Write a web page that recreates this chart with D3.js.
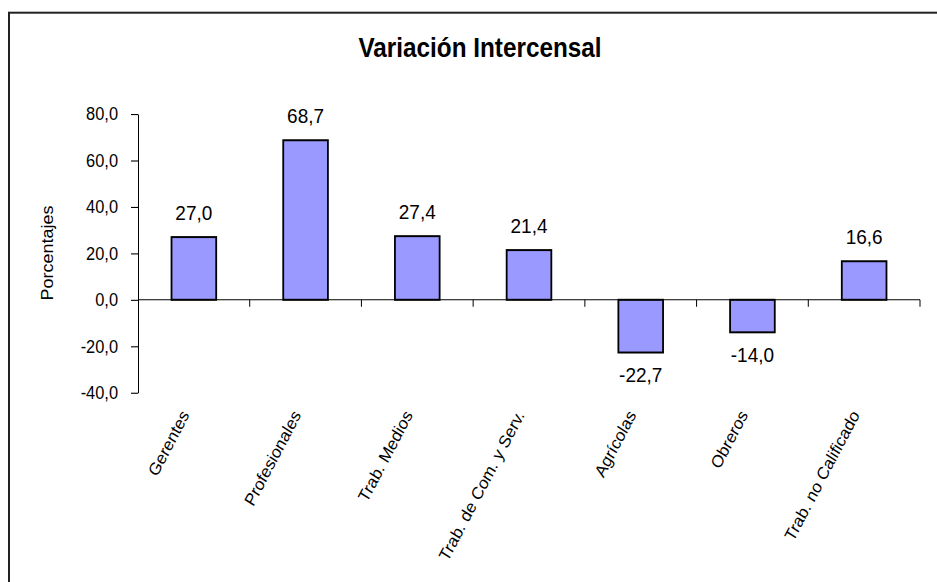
<!DOCTYPE html>
<html>
<head>
<meta charset="utf-8">
<script src="https://cdn.jsdelivr.net/npm/d3@7/dist/d3.min.js"></script>
<style>
  html, body { margin: 0; padding: 0; background: #fff; }
  svg { display: block; }
  text { font-family: "Liberation Sans", Arial, sans-serif; fill: #000; }
</style>
</head>
<body>
<svg id="chart" width="937" height="582"></svg>
<script>
// ---- data ----
const categories = ["Gerentes", "Profesionales", "Trab. Medios", "Trab. de Com. y Serv.", "Agrícolas", "Obreros", "Trab. no Calificado"];
const values = [27.0, 68.7, 27.4, 21.4, -22.7, -14.0, 16.6];
const yTicks = [-40, -20, 0, 20, 40, 60, 80];
const title = "Variación Intercensal";
const yTitle = "Porcentajes";

// ---- layout ----
const S = 1.1; // vertical stretch of the picture
const fmt = v => v.toFixed(1).replace(".", ",");

const svg = d3.select("#chart");
// outer frame (extends beyond right/bottom edge)
svg.append("rect")
  .attr("x", 9).attr("y", 12.7)
  .attr("width", 960).attr("height", 600)
  .attr("fill", "#fff").attr("stroke", "#222").attr("stroke-width", 2);

const g = svg.append("g").attr("transform", `scale(1,${S})`);

const x = d3.scaleBand().domain(categories).range([138, 920]).paddingInner(0.6).paddingOuter(0.3);
const y = d3.scaleLinear().domain([-40, 80]).range([392.7 / S, 114 / S]);

// title
g.append("text")
  .attr("x", 480).attr("y", 56.7 / S)
  .attr("text-anchor", "middle")
  .style("font-size", "24.3px")
  .style("font-weight", "bold")
  .text(title);

// y axis title
g.append("text")
  .attr("transform", `translate(53,${253 / S}) rotate(-90)`)
  .attr("text-anchor", "middle")
  .style("font-size", "16.4px")
  .text(yTitle);

// bars
g.selectAll("rect.bar").data(values).join("rect")
  .attr("class", "bar")
  .attr("x", (d, i) => x(categories[i]))
  .attr("width", x.bandwidth())
  .attr("y", d => y(Math.max(0, d)))
  .attr("height", d => Math.abs(y(d) - y(0)))
  .attr("fill", "#9999FF")
  .attr("stroke", "#000")
  .attr("stroke-width", 1.8);

// y axis
const yAxis = g.append("g")
  .attr("transform", `translate(${x.range()[0]},0)`)
  .call(d3.axisLeft(y).tickValues(yTicks).tickFormat(fmt).tickSizeInner(7).tickSizeOuter(0).tickPadding(13));
yAxis.select(".domain").attr("stroke", "#000");
yAxis.selectAll(".tick line").attr("stroke", "#000");
yAxis.selectAll("text").style("font-size", "16.4px").attr("font-family", null).attr("fill", "#000");

// x axis line at zero with ticks at category boundaries
const step = x.step();
const boundaries = categories.map((c, i) => x.range()[0] + (i + 1) * step);
g.append("line")
  .attr("x1", x.range()[0]).attr("x2", x.range()[1])
  .attr("y1", y(0)).attr("y2", y(0))
  .attr("stroke", "#000").attr("stroke-width", 1);
g.selectAll("line.xtick").data(boundaries).join("line")
  .attr("class", "xtick")
  .attr("x1", d => d).attr("x2", d => d)
  .attr("y1", y(0)).attr("y2", y(0) + 7 / S)
  .attr("stroke", "#000").attr("stroke-width", 1);

// value labels
g.selectAll("text.val").data(values).join("text")
  .attr("class", "val")
  .attr("x", (d, i) => x(categories[i]) + x.bandwidth() / 2)
  .attr("y", d => d >= 0 ? y(d) - 15.3 : y(d) + 26.7)
  .attr("text-anchor", "middle")
  .style("font-size", "19px")
  .text(fmt);

// category labels
g.selectAll("text.cat").data(categories).join("text")
  .attr("class", "cat")
  .attr("transform", d => `translate(${x(d) + x.bandwidth() / 2 - 4},${415 / S}) rotate(-60)`)
  .attr("text-anchor", "end")
  .style("font-size", "16px")
  .text(d => d);
</script>
</body>
</html>
